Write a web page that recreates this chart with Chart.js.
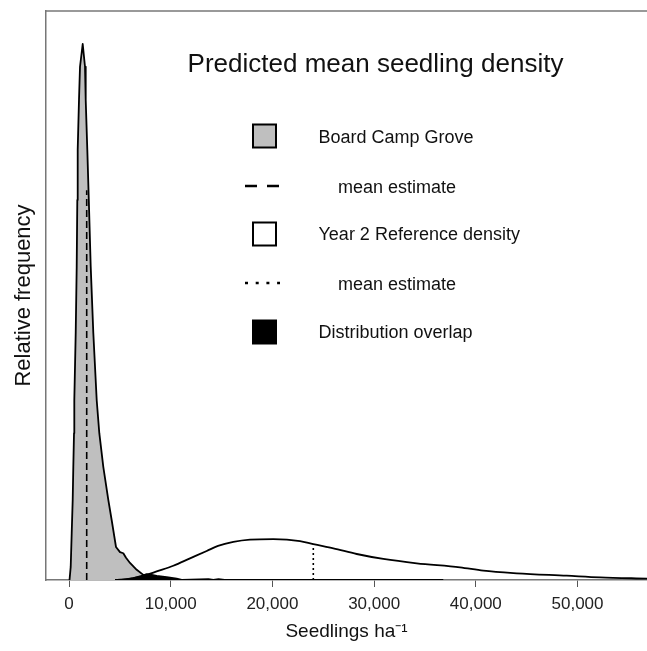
<!DOCTYPE html>
<html><head><meta charset="utf-8">
<script src="https://cdn.jsdelivr.net/npm/chart.js@4/dist/chart.umd.min.js"></script>
<style>html,body{margin:0;padding:0;background:#fff;overflow:hidden;}</style>
</head><body>
<canvas id="c" width="647" height="651"></canvas>
<script>
const FONT = '"Liberation Sans", Arial, sans-serif';
const chartTitle = 'Predicted mean seedling density';
const xAxisTitle = 'Seedlings ha\u207B\u00B9';
const yAxisTitle = 'Relative frequency';
const xTickValues = [0, 10000, 20000, 30000, 40000, 50000];

// Board Camp Grove density (relative frequency)
const groveX = [50, 167, 265, 364, 423, 492, 521, 659, 757, 816, 855, 983, 1082, 1347, 1573, 1642, 1800, 1947, 2134, 2390, 2724, 2980, 3372, 3864, 4198, 4621, 5015, 5339, 5605, 5998, 6657, 7306, 7965, 8456];
const groveY = [0, 0.023, 0.082, 0.141, 0.199, 0.258, 0.316, 0.434, 0.551, 0.668, 0.756, 0.844, 0.902, 0.942, 0.902, 0.844, 0.756, 0.668, 0.551, 0.434, 0.316, 0.258, 0.199, 0.141, 0.105, 0.058, 0.049, 0.047, 0.039, 0.030, 0.018, 0.009, 0.003, 0];

// Year 2 Reference density
const refX = [4523, 5998, 7640, 8623, 10256, 11898, 13540, 14651, 16156, 17797, 20088, 22714, 24021, 25988, 28289, 30904, 34189, 38446, 40737, 44022, 48938, 52212, 56834];
const refY = [0, 0.002, 0.009, 0.015, 0.025, 0.038, 0.051, 0.060, 0.067, 0.071, 0.072, 0.0685, 0.063, 0.0557, 0.0457, 0.037, 0.0294, 0.0223, 0.0163, 0.0118, 0.0076, 0.0047, 0.0023];

// Distribution overlap
const overlapX = [5180, 6323, 6982, 7640, 8132, 8623, 9607, 10590, 11082, 13700, 14200, 14700, 15300, 16300, 36800];
const overlapY = [0, 0.003, 0.006, 0.010, 0.0088, 0.007, 0.0047, 0.0023, 0, 0.0015, 0, 0.0012, 0, 0, 0];

// mean estimates
const groveMean = 1740, groveMeanTop = 0.685;
const refMean = 24020, refMeanTop = 0.063;

const legendLabels = ['Board Camp Grove', 'mean estimate', 'Year 2 Reference density', 'mean estimate', 'Distribution overlap'];

const pts = (xs, ys) => xs.map((x, i) => ({x: x, y: ys[i]}));

const overlayPlugin = {
  id: 'overlay',
  afterDraw(chart) {
    const ctx = chart.ctx, a = chart.chartArea;
    ctx.save();
    // top frame line
    ctx.strokeStyle = '#777'; ctx.lineWidth = 1.5;
    ctx.beginPath(); ctx.moveTo(a.left - 0.75, a.top); ctx.lineTo(chart.width + 2, a.top); ctx.stroke();
    // title
    ctx.fillStyle = '#111';
    ctx.font = '26px ' + FONT;
    ctx.textAlign = 'center'; ctx.textBaseline = 'alphabetic';
    ctx.fillText(chartTitle, 375.5, 72);
    // legend
    ctx.font = '18px ' + FONT; ctx.textAlign = 'left';
    const sq = (y, fill) => {
      ctx.fillStyle = fill; ctx.fillRect(253, y - 11, 23, 23);
      ctx.strokeStyle = '#000'; ctx.lineWidth = 2; ctx.setLineDash([]);
      ctx.strokeRect(253, y - 11, 23, 23);
    };
    const seg = (y, dash) => {
      ctx.strokeStyle = '#000'; ctx.lineWidth = 2.5; ctx.setLineDash(dash);
      ctx.beginPath(); ctx.moveTo(245, y); ctx.lineTo(280, y); ctx.stroke();
      ctx.setLineDash([]);
    };
    sq(135.5, '#bfbfbf');
    seg(186, [12, 10]);
    sq(233.5, '#ffffff');
    seg(283, [3, 7.7]);
    sq(331.5, '#000000');
    ctx.fillStyle = '#111';
    ctx.fillText(legendLabels[0], 318.5, 143);
    ctx.fillText(legendLabels[1], 338, 193);
    ctx.fillText(legendLabels[2], 318.5, 240);
    ctx.fillText(legendLabels[3], 338, 290);
    ctx.fillText(legendLabels[4], 318.5, 337.5);
    ctx.restore();
  }
};

new Chart(document.getElementById('c'), {
  type: 'line',
  data: {
    datasets: [
      { label: 'Board Camp Grove', data: pts(groveX, groveY), fill: 'origin', backgroundColor: '#bfbfbf', borderColor: '#000', borderWidth: 1.8, order: 5 },
      { label: 'Distribution overlap', data: pts(overlapX, overlapY), fill: 'origin', backgroundColor: '#000', borderColor: '#000', borderWidth: 2, order: 3 },
      { label: 'Year 2 Reference density', data: pts(refX, refY), fill: false, borderColor: '#000', borderWidth: 1.8, cubicInterpolationMode: 'monotone', order: 4 },
      { label: 'Grove mean estimate', data: [{x: groveMean, y: 0}, {x: groveMean, y: groveMeanTop}], fill: false, borderColor: '#000', borderWidth: 1.6, borderDash: [7, 4], order: 1 },
      { label: 'Reference mean estimate', data: [{x: refMean, y: 0}, {x: refMean, y: refMeanTop}], fill: false, borderColor: '#000', borderWidth: 1.6, borderDash: [2, 3], order: 2 }
    ]
  },
  options: {
    responsive: false, animation: false, devicePixelRatio: 1,
    layout: { padding: { top: 11, left: 0, right: 0, bottom: 0 } },
    elements: { point: { radius: 0, hoverRadius: 0 }, line: { tension: 0, borderJoinStyle: 'round' } },
    plugins: { legend: { display: false }, tooltip: { enabled: false }, title: { display: false } },
    scales: {
      x: {
        type: 'linear', min: -2262, max: 56830,
        afterBuildTicks: (s) => { s.ticks = xTickValues.map(v => ({value: v})); },
        afterFit: (s) => { s.height = 71; },
        ticks: { color: '#222', font: { family: FONT, size: 17 }, padding: 7, maxRotation: 0, autoSkip: false,
                 callback: (v) => Number(v).toLocaleString('en-US') },
        grid: { display: true, drawOnChartArea: false, drawTicks: true, tickLength: 7, color: '#555', lineWidth: 1 },
        border: { display: true, color: '#777', width: 1.5 },
        title: { display: true, text: xAxisTitle, color: '#111', font: { family: FONT, size: 19 }, padding: { top: 0, bottom: 7.6 } }
      },
      y: {
        type: 'linear', min: 0, max: 1,
        afterFit: (s) => { s.width = 46; },
        ticks: { display: false },
        grid: { display: false },
        border: { display: true, color: '#777', width: 1.5 },
        title: { display: true, text: yAxisTitle, color: '#111', font: { family: FONT, size: 22 }, padding: { top: 10.7, bottom: 0 } }
      }
    }
  },
  plugins: [overlayPlugin]
});
</script>
</body></html>
